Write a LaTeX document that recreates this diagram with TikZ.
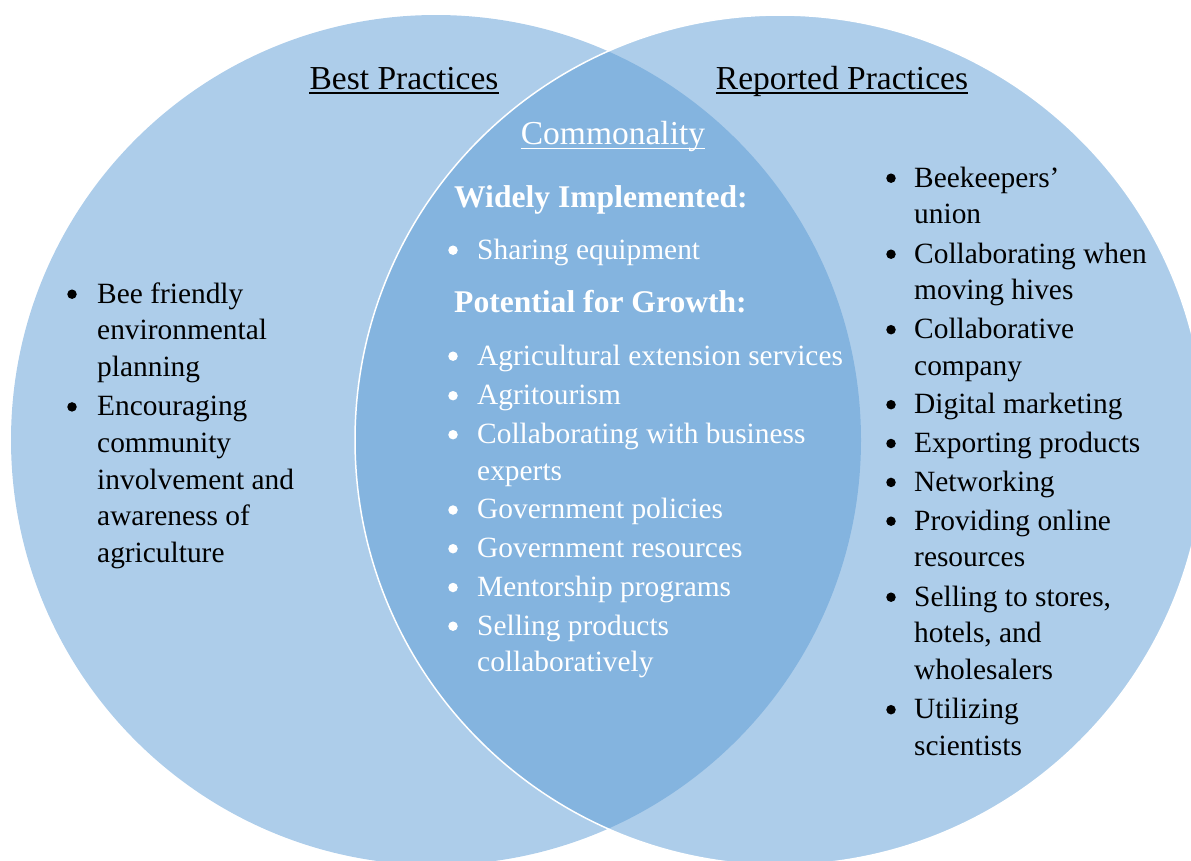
\documentclass[tikz,border=0pt]{standalone}
\usepackage{fontspec}
\setmainfont{Liberation Serif}
\definecolor{vennblue}{HTML}{5B9BD5}
\tikzset{
  vennfill/.style={fill=vennblue, fill opacity=0.5},
  itemtext/.style={font=\fontsize{29.4}{36.7}\selectfont, inner sep=0pt, anchor=base west},
  bulletmark/.style={circle, inner sep=0pt, minimum size=9.5pt},
  headtext/.style={font=\fontsize{33.5}{40}\selectfont, inner sep=0pt, anchor=base},
  subhead/.style={font=\bfseries\fontsize{31.6}{38}\selectfont, inner sep=0pt, anchor=base west, text=white},
  uline/.style={line width=1.4pt},
}
\newcommand{\bitem}[6]{%
  \node[bulletmark, fill=#5] (#1b) at (#2,#4-8.8) {};
  \node[itemtext, text=#5] (#1) at (#3,#4) {\begin{tabular}[t]{@{}l@{}}#6\end{tabular}};
}
\begin{document}
\begin{tikzpicture}[x=1pt,y=-1pt]
\useasboundingbox (0,0) rectangle (1191,860);
\begin{scope}
\clip (0,0) rectangle (1191,860);
\fill[vennfill] (436,440) circle[radius=425pt];
\filldraw[vennfill, draw=white, line width=1.5pt] (780,440) circle[radius=425pt];
\end{scope}

% headings
\node[headtext] (best) at (404,89) {Best Practices};
\node[headtext] (rep) at (842,89) {Reported Practices};
\node[headtext, text=white] (com) at (613,144) {Commonality};
\draw[uline] ([yshift=-4pt]best.base west) -- ([yshift=-4pt]best.base east);
\draw[uline] ([yshift=-4pt]rep.base west) -- ([yshift=-4pt]rep.base east);
\draw[uline, white] ([yshift=-4.5pt]com.base west) -- ([yshift=-4.5pt]com.base east);

% left
\bitem{l1}{72}{97}{303}{black}{Bee friendly\\environmental\\planning}
\bitem{l2}{72}{97}{415.7}{black}{Encouraging\\community\\involvement and\\awareness of\\agriculture}

% center
\node[subhead] (wi) at (454,207) {Widely Implemented:};
\bitem{c1}{453}{477}{259}{white}{Sharing equipment}
\node[subhead] (pg) at (454,312) {Potential for Growth:};
\bitem{c2}{453}{477}{365}{white}{Agricultural extension services}
\bitem{c3}{453}{477}{404.5}{white}{Agritourism}
\bitem{c4}{453}{477}{443.5}{white}{Collaborating with business\\experts}
\bitem{c5}{453}{477}{518.8}{white}{Government policies}
\bitem{c6}{453}{477}{557.5}{white}{Government resources}
\bitem{c7}{453}{477}{596.3}{white}{Mentorship programs}
\bitem{c8}{453}{477}{635}{white}{Selling products\\collaboratively}

% right
\bitem{r1}{891}{914}{187}{black}{Beekeepers’\\union}
\bitem{r2}{891}{914}{263}{black}{Collaborating when\\moving hives}
\bitem{r3}{891}{914}{338.5}{black}{Collaborative\\company}
\bitem{r4}{891}{914}{413.5}{black}{Digital marketing}
\bitem{r5}{891}{914}{452.3}{black}{Exporting products}
\bitem{r6}{891}{914}{491.2}{black}{Networking}
\bitem{r7}{891}{914}{530}{black}{Providing online\\resources}
\bitem{r8}{891}{914}{606}{black}{Selling to stores,\\hotels, and\\wholesalers}
\bitem{r9}{891}{914}{718.5}{black}{Utilizing\\scientists}
\end{tikzpicture}
\end{document}
